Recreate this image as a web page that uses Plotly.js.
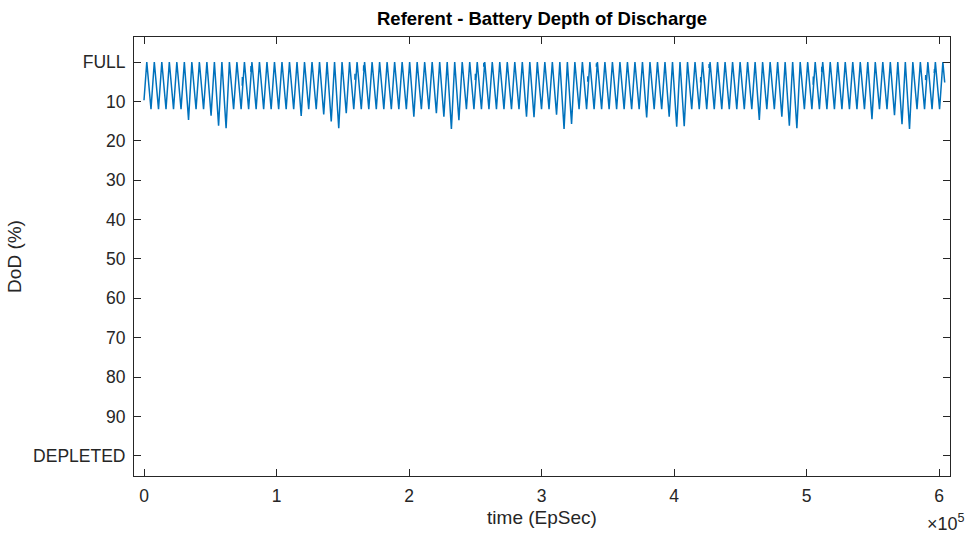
<!DOCTYPE html>
<html>
<head>
<meta charset="utf-8">
<script src="https://cdn.plot.ly/plotly-3.0.1.min.js"></script>
<style>
html,body{margin:0;padding:0;background:#ffffff;}
#chart{width:976px;height:536px;}
</style>
</head>
<body>
<div id="chart"></div>
<script>
// ---- data ----
const orbitPeriodSec = 5668;      // one charge/discharge cycle
const firstTroughSec = 5283;      // time of first DoD maximum
const startDoD = 9.7;             // DoD at t = 0
const endTimeSec = 604300;        // last sample time
const endDoD = 5.2;               // DoD at last sample
const riseFrac = 0.36;            // part of cycle spent recharging
const plateauFrac = 0.08;         // part of cycle spent full

// DoD (%) at the bottom of each cycle, orbit 0..105
const troughDoD = [
  12, 12, 12, 12, 12, 14.7, 12, 12, 13.6, 16.2, 16.8,
  12, 12, 12, 12, 12, 12, 12, 12, 12,
  13.7, 12, 12, 13.3, 15.1, 16.8, 13.0,
  12, 12, 12, 12, 12, 12, 12, 12,
  13.9, 12, 12, 13.0, 13.9, 17.0, 14.8,
  12, 12, 12, 12, 12, 12, 12, 12,
  13.9, 14.0, 12, 12, 13.4, 17.0, 15.7,
  12, 12, 12, 12, 12, 12, 12, 12, 12,
  14.1, 12, 12, 13.9, 16.4, 16.3,
  12, 12, 12, 12, 12, 12, 12, 12, 12,
  14.7, 12, 12, 13.9, 16.2, 16.8,
  12, 12, 12, 12, 12, 12, 12, 12, 12,
  14.5, 12, 12, 13.5, 15.8, 17.0,
  12, 12, 12, 12
];

// short glitches seen on the recharge side of some cycles
const glitchOrbit = [12, 13, 27, 28, 43, 44, 58, 59, 73, 74, 88, 89, 103, 104];
const glitchPhase = [0.15, 0.30, 0.15, 0.30, 0.18, 0.30, 0.15, 0.30, 0.18, 0.30, 0.17, 0.30, 0.14, 0.30];
const glitchLow  = [6.0, 2.5, 4.5, 2.2, 4.6, 1.2, 5.0, 1.2, 5.2, 1.5, 5.8, 2.5, 4.6, 2.8];
const glitchHigh = [3.8, 1.0, 3.0, 0.8, 3.0, 0.2, 3.6, 0.3, 3.8, 0.5, 3.7, 1.2, 3.3, 1.8];

const xTickVals = [0, 100000, 200000, 300000, 400000, 500000, 600000];
const xTickText = ['0', '1', '2', '3', '4', '5', '6'];
const yTickVals = [0, 10, 20, 30, 40, 50, 60, 70, 80, 90, 100];
const yTickText = ['FULL', '10', '20', '30', '40', '50', '60', '70', '80', '90', 'DEPLETED'];

// ---- build the trace from the cycle data ----
const tx = [0];
const dy = [startDoD];
troughDoD.forEach(function (v, k) {
  const T = firstTroughSec + k * orbitPeriodSec;
  tx.push(T - (1 - riseFrac) * orbitPeriodSec); dy.push(0);
  tx.push(T - (1 - riseFrac - plateauFrac) * orbitPeriodSec); dy.push(0);
  tx.push(T); dy.push(v);
});
const lastT = firstTroughSec + (troughDoD.length - 1) * orbitPeriodSec;
tx.push(lastT + riseFrac * orbitPeriodSec); dy.push(0);
tx.push(lastT + (riseFrac + plateauFrac) * orbitPeriodSec); dy.push(0);
tx.push(endTimeSec); dy.push(endDoD);

const gx = [], gy = [];
glitchOrbit.forEach(function (k, i) {
  const T = firstTroughSec + k * orbitPeriodSec + glitchPhase[i] * orbitPeriodSec;
  gx.push(T, T + 0.02 * orbitPeriodSec, null);
  gy.push(glitchLow[i], glitchHigh[i], null);
});

const lineColor = '#0072BD';
const axisColor = '#262626';
const fontFam = '"Liberation Sans", Arial, Helvetica, sans-serif';

const traces = [
  {x: tx, y: dy, type: 'scatter', mode: 'lines', line: {color: lineColor, width: 1.5, shape: 'linear'}, showlegend: false, hoverinfo: 'skip'},
  {x: gx, y: gy, type: 'scatter', mode: 'lines', line: {color: lineColor, width: 1.5}, showlegend: false, hoverinfo: 'skip', connectgaps: false}
];

const axisCommon = {
  showline: true, linecolor: axisColor, linewidth: 1,
  mirror: 'ticks', ticks: 'inside', ticklen: 7, tickwidth: 1, tickcolor: axisColor,
  showgrid: false, zeroline: false,
  tickfont: {family: fontFam, size: 17.5, color: axisColor}
};

const layout = {
  width: 976, height: 536,
  paper_bgcolor: '#ffffff', plot_bgcolor: '#ffffff',
  margin: {l: 134, r: 26, t: 37, b: 60, pad: 0},
  font: {family: fontFam, color: axisColor},
  title: {
    text: '<b>Referent - Battery Depth of Discharge</b>',
    font: {family: fontFam, size: 18.5, color: '#000000'},
    xref: 'paper', x: 0.5, xanchor: 'center',
    yref: 'container', y: 1 - 19 / 536, yanchor: 'middle'
  },
  xaxis: Object.assign({}, axisCommon, {
    range: [-7547, 608300],
    tickmode: 'array', tickvals: xTickVals, ticktext: xTickText,
    ticklabelstandoff: 4,
    title: {text: 'time (EpSec)', font: {family: fontFam, size: 19, color: axisColor}, standoff: 5}
  }),
  yaxis: Object.assign({}, axisCommon, {
    range: [105.1, -6.35],
    tickmode: 'array', tickvals: yTickVals, ticktext: yTickText,
    ticklabelstandoff: 4,
    title: {text: 'DoD (%)', font: {family: fontFam, size: 19, color: axisColor}, standoff: 6}
  }),
  annotations: [{
    text: '×10<sup>5</sup>', xref: 'paper', yref: 'paper',
    x: 0.995, y: -0.107, xanchor: 'center', yanchor: 'middle',
    showarrow: false, font: {family: fontFam, size: 18, color: axisColor}
  }]
};

Plotly.newPlot('chart', traces, layout, {staticPlot: true, displayModeBar: false});
</script>
</body>
</html>
